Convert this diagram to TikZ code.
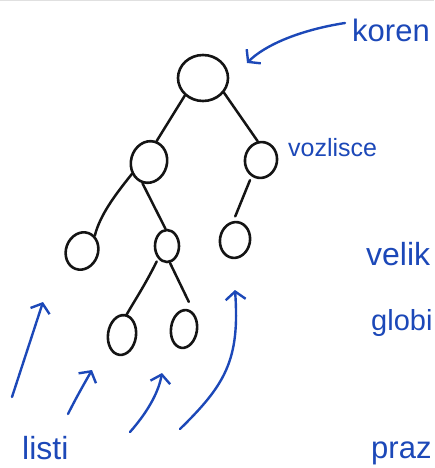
\documentclass[tikz,border=0pt]{standalone}
\usepackage{fontspec}
\setmainfont{Liberation Sans}
\usetikzlibrary{shapes.geometric,arrows.meta}
\definecolor{ink}{RGB}{20,20,20}
\definecolor{pen}{RGB}{28,72,184}
\begin{document}
\begin{tikzpicture}[x=1pt,y=-1pt,
  treenode/.style={ellipse,draw=ink,line width=2.6pt,inner sep=0pt},
  branch/.style={draw=ink,line width=2.5pt,line cap=round},
  pointer/.style={draw=pen,line width=2.4pt,line cap=round,
    -{Straight Barb[length=8pt,width=20pt,line width=2.4pt]}},
  label/.style={text=pen,anchor=base west,inner sep=0pt}]
\useasboundingbox (0,0) rectangle (434,468);
\clip (0,0) rectangle (434,468);
\fill[black!12] (0,0) rectangle (434,1.5);

% tree nodes
\node[treenode,minimum width=50pt,minimum height=46pt] (root) at (203,78) {};
\node[treenode,minimum width=36pt,minimum height=42pt,rotate=-15] (l) at (149,162) {};
\node[treenode,minimum width=32pt,minimum height=36pt,rotate=-10] (r) at (261,160) {};
\node[treenode,minimum width=32pt,minimum height=38pt,rotate=-20] (ll) at (82,251) {};
\node[treenode,minimum width=24pt,minimum height=32pt] (lm) at (167,246) {};
\node[treenode,minimum width=30pt,minimum height=36pt,rotate=-10] (rl) at (235,240) {};
\node[treenode,minimum width=28pt,minimum height=40pt,rotate=-8] (b1) at (122,335) {};
\node[treenode,minimum width=26pt,minimum height=38pt,rotate=-8] (b2) at (184,329) {};

% branches
\draw[branch] (root.224) -- (l.85);
\draw[branch] (root.-35) -- (r.110);
\draw[branch] (l.230) .. controls (115,195) and (100,215) .. (ll.70);
\draw[branch] (l.268) -- (lm.95);
\draw[branch,shorten <=4pt,shorten >=5pt] (r.250) -- (rl.105);
\draw[branch,shorten <=3pt] (lm.235) .. controls (145,285) and (135,300) .. (b1.85);
\draw[branch] (lm.280) -- ([shift={(2,-7)}]b2.90);

% pointer arrows
\coordinate (kstart) at (345,23);
\coordinate (kend) at (247,63);
\draw[pointer] (kstart) .. controls (300,30) and (265,45) .. (kend);

\coordinate (a0) at (12,397);  \coordinate (a1) at (43,302);
\coordinate (b0) at (68,414);  \coordinate (b1e) at (92,370);
\coordinate (c0) at (130,432); \coordinate (c1) at (162,373);
\coordinate (d0) at (180,429); \coordinate (d1) at (235,290);
\draw[pointer] (a0) -- (a1);
\draw[pointer] (b0) .. controls (76,398) and (84,384) .. (b1e);
\draw[pointer] (c0) .. controls (145,415) and (158,395) .. (c1);
\draw[pointer] (d0) .. controls (225,385) and (240,360) .. (d1);

% labels
\node[label,font=\fontsize{31}{31}\selectfont] (koren) at (352,42) {koren};
\node[label,font=\fontsize{25}{25}\selectfont] (vozlisce) at (288,156) {vozlisce};
\node[label,font=\fontsize{32}{32}\selectfont] (velik) at (366,265) {velik};
\node[label,font=\fontsize{29}{29}\selectfont] (globi) at (371,330) {globi};
\node[label,font=\fontsize{32}{32}\selectfont] (listi) at (22,459) {listi};
\node[label,font=\fontsize{31}{31}\selectfont] (praz) at (371,458) {praz};
\end{tikzpicture}
\end{document}
